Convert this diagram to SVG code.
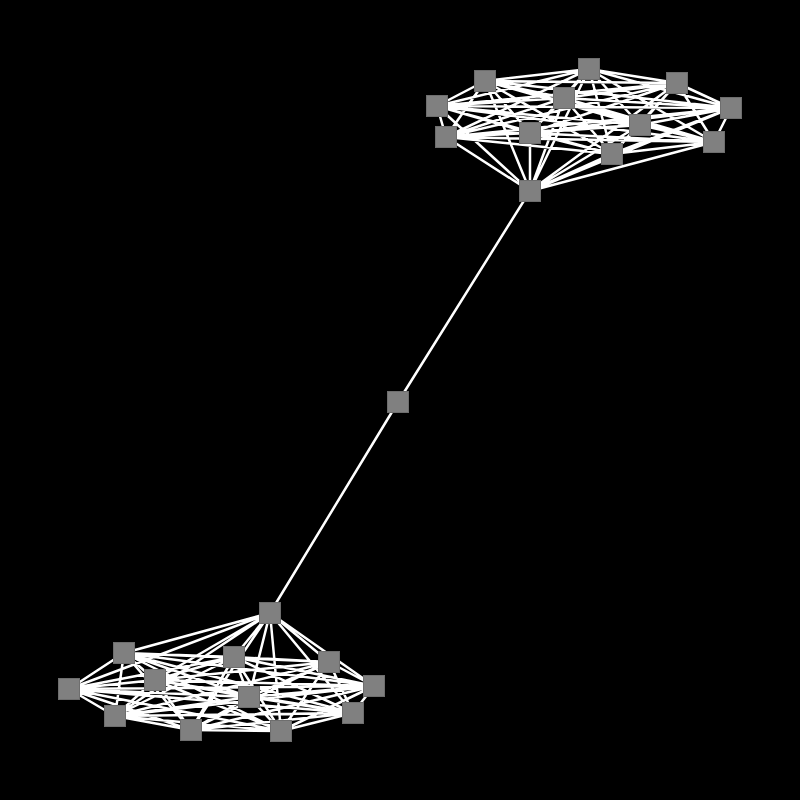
<svg xmlns="http://www.w3.org/2000/svg" width="800" height="800" viewBox="0 0 800 800">
<style>
.e{stroke:#ffffff;stroke-width:2.5;fill:none}
.n{fill:#808080;stroke:#6e6e6e;stroke-width:1}
</style>
<rect width="800" height="800" fill="#000000"/>
<g id="edges">
<path class="e" d="M485 81L589 69M485 81L677 83M485 81L437 106M485 81L564 98M485 81L731 108M485 81L446 137M485 81L530 133M485 81L640 125M485 81L714 142M485 81L612 154M485 81L530 191
M589 69L677 83M589 69L437 106M589 69L564 98M589 69L731 108M589 69L446 137M589 69L530 133M589 69L640 125M589 69L714 142M589 69L612 154M589 69L530 191
M677 83L437 106M677 83L564 98M677 83L731 108M677 83L446 137M677 83L530 133M677 83L640 125M677 83L714 142M677 83L612 154M677 83L530 191
M437 106L564 98M437 106L731 108M437 106L446 137M437 106L530 133M437 106L640 125M437 106L714 142M437 106L612 154M437 106L530 191
M564 98L731 108M564 98L446 137M564 98L530 133M564 98L640 125M564 98L714 142M564 98L612 154M564 98L530 191
M731 108L446 137M731 108L530 133M731 108L640 125M731 108L714 142M731 108L612 154M731 108L530 191
M446 137L530 133M446 137L640 125M446 137L714 142M446 137L612 154M446 137L530 191
M530 133L640 125M530 133L714 142M530 133L612 154M530 133L530 191
M640 125L714 142M640 125L612 154M640 125L530 191
M714 142L612 154M714 142L530 191
M612 154L530 191"/>
<path class="e" d="M530 191L398 402M398 402L270 613"/>
<path class="e" d="M270 613L124 653M270 613L234 657M270 613L329 662M270 613L155 680M270 613L69 689M270 613L374 686M270 613L249 697M270 613L115 716M270 613L353 713M270 613L191 730M270 613L281 731
M124 653L234 657M124 653L329 662M124 653L155 680M124 653L69 689M124 653L374 686M124 653L249 697M124 653L115 716M124 653L353 713M124 653L191 730M124 653L281 731
M234 657L329 662M234 657L155 680M234 657L69 689M234 657L374 686M234 657L249 697M234 657L115 716M234 657L353 713M234 657L191 730M234 657L281 731
M329 662L155 680M329 662L69 689M329 662L374 686M329 662L249 697M329 662L115 716M329 662L353 713M329 662L191 730M329 662L281 731
M155 680L69 689M155 680L374 686M155 680L249 697M155 680L115 716M155 680L353 713M155 680L191 730M155 680L281 731
M69 689L374 686M69 689L249 697M69 689L115 716M69 689L353 713M69 689L191 730M69 689L281 731
M374 686L249 697M374 686L115 716M374 686L353 713M374 686L191 730M374 686L281 731
M249 697L115 716M249 697L353 713M249 697L191 730M249 697L281 731
M115 716L353 713M115 716L191 730M115 716L281 731
M353 713L191 730M353 713L281 731
M191 730L281 731"/>
</g>
<g id="t0"><rect class="n" x="474.5" y="70.5" width="21" height="21"/></g>
<g id="t1"><rect class="n" x="578.5" y="58.5" width="21" height="21"/></g>
<g id="t2"><rect class="n" x="666.5" y="72.5" width="21" height="21"/></g>
<g id="t3"><rect class="n" x="426.5" y="95.5" width="21" height="21"/></g>
<g id="t4"><rect class="n" x="553.5" y="87.5" width="21" height="21"/></g>
<g id="t5"><rect class="n" x="720.5" y="97.5" width="21" height="21"/></g>
<g id="t6"><rect class="n" x="435.5" y="126.5" width="21" height="21"/></g>
<g id="t7"><rect class="n" x="519.5" y="122.5" width="21" height="21"/></g>
<g id="t8"><rect class="n" x="629.5" y="114.5" width="21" height="21"/></g>
<g id="t9"><rect class="n" x="703.5" y="131.5" width="21" height="21"/></g>
<g id="t10"><rect class="n" x="601.5" y="143.5" width="21" height="21"/></g>
<g id="t11"><rect class="n" x="519.5" y="180.5" width="21" height="21"/></g>
<g id="mid"><rect class="n" x="387.5" y="391.5" width="21" height="21"/></g>
<g id="b0"><rect class="n" x="259.5" y="602.5" width="21" height="21"/></g>
<g id="b1"><rect class="n" x="113.5" y="642.5" width="21" height="21"/></g>
<g id="b2"><rect class="n" x="223.5" y="646.5" width="21" height="21"/></g>
<g id="b3"><rect class="n" x="318.5" y="651.5" width="21" height="21"/></g>
<g id="b4"><rect class="n" x="144.5" y="669.5" width="21" height="21"/></g>
<g id="b5"><rect class="n" x="58.5" y="678.5" width="21" height="21"/></g>
<g id="b6"><rect class="n" x="363.5" y="675.5" width="21" height="21"/></g>
<g id="b7"><rect class="n" x="238.5" y="686.5" width="21" height="21"/></g>
<g id="b8"><rect class="n" x="104.5" y="705.5" width="21" height="21"/></g>
<g id="b9"><rect class="n" x="342.5" y="702.5" width="21" height="21"/></g>
<g id="b10"><rect class="n" x="180.5" y="719.5" width="21" height="21"/></g>
<g id="b11"><rect class="n" x="270.5" y="720.5" width="21" height="21"/></g>
</svg>
